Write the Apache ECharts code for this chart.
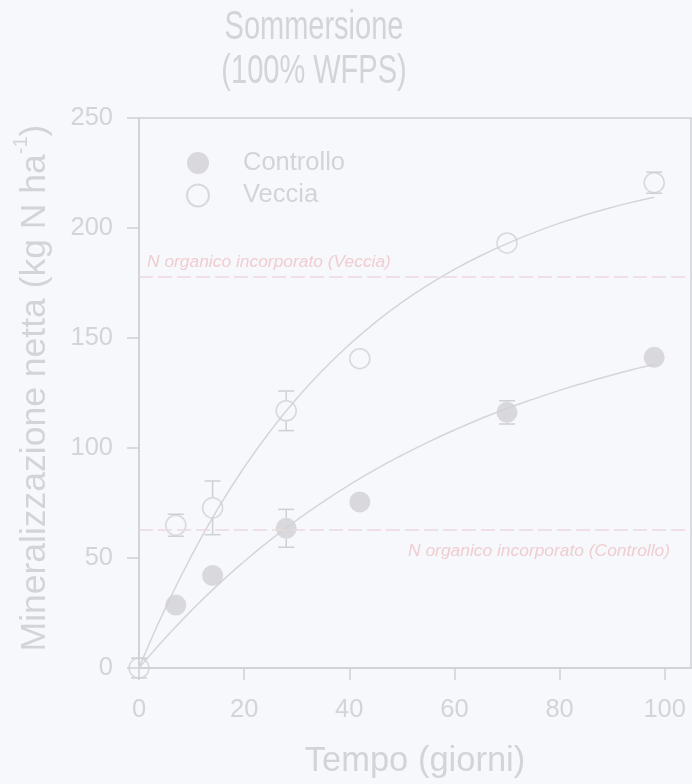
<!DOCTYPE html>
<html>
<head>
<meta charset="utf-8">
<script src="https://cdn.jsdelivr.net/npm/echarts@6/dist/echarts.min.js"></script>
<style>
  html, body { margin: 0; padding: 0; background: #f7f8fc; }
  #chart { width: 692px; height: 784px; }
</style>
</head>
<body>
<div id="chart"></div>
<script>
// Net N mineralisation under flooding (100% WFPS)
const titleLines = ['Sommersione', '(100% WFPS)'];
const xTicks = [0, 20, 40, 60, 80, 100];

// Measured points (days, kg N/ha) and standard errors
const controlloT = [7, 14, 28, 42, 70, 98];
const controlloN = [28.6, 42.0, 63.5, 75.5, 116.2, 141.2];
const controlloErr = [0, 0, 8.6, 0, 5.3, 0];

const vecciaT = [0, 7, 14, 28, 42, 70, 98];
const vecciaN = [0, 64.9, 72.8, 116.9, 140.6, 193.2, 220.6];
const vecciaErr = [4.5, 5, 12.2, 9, 0, 0, 4.8];

// First-order kinetic curves, sampled along time
const curveT = [0, 2, 5, 10, 15, 20, 25, 30, 35, 40, 45, 50, 55, 60, 65, 70, 75, 80, 85, 90, 95, 98];
const curveControllo = [0, 5.6, 13.6, 26.2, 37.8, 48.4, 58.2, 67.2, 75.5, 83.2, 90.3, 96.7, 102.7, 108.2, 113.3, 118.0, 122.2, 126.2, 129.8, 133.2, 136.3, 138.0];
const curveVeccia = [0, 11.3, 27.1, 51.1, 72.4, 91.2, 107.8, 122.5, 135.5, 147.0, 157.2, 166.2, 174.1, 181.2, 187.4, 192.9, 197.8, 202.2, 206.0, 209.4, 212.4, 214.0];

// Organic N incorporated with each treatment
const nIncVeccia = 178;
const nIncControllo = 63;

const axisColor = '#cfd0d5';
const textColor = '#d3d4d8';
const pink = '#ecd8dc';
const pinkText = '#efcdd1';
const font = 'Liberation Sans, Arial, sans-serif';

const pairs = (xs, ys) => xs.map((x, i) => [x, ys[i]]);
const errTriples = (xs, ys, es) => xs.map((x, i) => [x, ys[i], es[i]]).filter(d => d[2] > 0);

function renderErr(params, api) {
  const t = api.value(0), v = api.value(1), e = api.value(2);
  const c = api.coord([t, v]);
  const top = api.coord([t, v + e]);
  const bot = api.coord([t, v - e]);
  const r = 10.5, half = 8;
  const style = { stroke: axisColor, lineWidth: 1.5 };
  const children = [];
  if (top[1] < c[1] - r) children.push({ type: 'line', shape: { x1: c[0], y1: c[1] - r, x2: c[0], y2: top[1] }, style });
  if (bot[1] > c[1] + r) children.push({ type: 'line', shape: { x1: c[0], y1: c[1] + r, x2: c[0], y2: bot[1] }, style });
  children.push({ type: 'line', shape: { x1: c[0] - half, y1: top[1], x2: c[0] + half, y2: top[1] }, style });
  children.push({ type: 'line', shape: { x1: c[0] - half, y1: bot[1], x2: c[0] + half, y2: bot[1] }, style });
  return { type: 'group', children };
}

// Tall, narrow heading lines
const titleGraphics = titleLines.map((line, i) => ({
  type: 'text',
  x: 314,
  y: 28 + i * 44,
  scaleY: 1.42,
  silent: true,
  style: {
    text: line,
    font: '29px ' + font,
    fill: textColor,
    align: 'center',
    verticalAlign: 'middle'
  }
}));

const chart = echarts.init(document.getElementById('chart'), null, { renderer: 'canvas' });
chart.setOption({
  animation: false,
  backgroundColor: '#f7f8fc',
  graphic: titleGraphics,
  legend: {
    data: ['Controllo', 'Veccia'],
    orient: 'vertical',
    left: 186,
    top: 150,
    padding: 0,
    itemWidth: 22,
    itemHeight: 22,
    itemGap: 6.4,
    textStyle: { fontFamily: font, fontSize: 25.5, color: textColor, padding: [0, 0, 0, 29] }
  },
  grid: {
    left: 139, right: 1, top: 118, bottom: 114,
    show: true, borderColor: axisColor, borderWidth: 1.5, backgroundColor: 'transparent'
  },
  xAxis: {
    type: 'value', min: 0, max: 105,
    name: 'Tempo (giorni)', nameLocation: 'middle', nameGap: 76,
    nameTextStyle: { fontFamily: font, fontSize: 34.5, color: textColor },
    axisLine: { show: true, lineStyle: { color: axisColor, width: 1.5 } },
    axisTick: { show: true, inside: false, length: 12, customValues: xTicks, lineStyle: { color: axisColor, width: 1.5 } },
    axisLabel: { customValues: xTicks, margin: 29, fontFamily: font, fontSize: 25.5, color: textColor },
    splitLine: { show: false }
  },
  yAxis: {
    type: 'value', min: 0, max: 250, interval: 50,
    name: '{a|Mineralizzazione netta (kg N ha}{s|-1}{a|)}', nameLocation: 'middle', nameGap: 86,
    nameTextStyle: {
      fontFamily: font, fontSize: 35.5, color: textColor, padding: [0, 0, 0, 10],
      rich: {
        a: { fontFamily: font, fontSize: 35.5, color: textColor, lineHeight: 42, verticalAlign: 'bottom' },
        s: { fontFamily: font, fontSize: 20, color: textColor, lineHeight: 22, verticalAlign: 'top' }
      }
    },
    axisLine: { show: true, lineStyle: { color: axisColor, width: 1.5 } },
    axisTick: { show: true, inside: false, length: 12, lineStyle: { color: axisColor, width: 1.5 } },
    axisLabel: { margin: 26, fontFamily: font, fontSize: 25.5, color: textColor },
    splitLine: { show: false }
  },
  series: [
    {
      name: 'Controllo curva', type: 'line', data: pairs(curveT, curveControllo),
      showSymbol: false, smooth: true, silent: true, z: 2,
      lineStyle: { color: '#d4d5d9', width: 1.5 },
      markLine: {
        silent: true, symbol: 'none',
        lineStyle: { color: pink, type: [14, 5], width: 1.5 },
        label: {
          position: 'insideEndBottom', distance: [21, 13],
          fontFamily: font, fontSize: 17.4, fontStyle: 'italic', color: pinkText,
          formatter: 'N organico incorporato (Controllo)'
        },
        data: [{ yAxis: nIncControllo }]
      }
    },
    {
      name: 'Veccia curva', type: 'line', data: pairs(curveT, curveVeccia),
      showSymbol: false, smooth: true, silent: true, z: 2,
      lineStyle: { color: '#d4d5d9', width: 1.5 },
      markLine: {
        silent: true, symbol: 'none',
        lineStyle: { color: pink, type: [14, 5], width: 1.5 },
        label: {
          position: 'insideStartTop', distance: [8, 6],
          fontFamily: font, fontSize: 17.4, fontStyle: 'italic', color: pinkText,
          formatter: 'N organico incorporato (Veccia)'
        },
        data: [{ yAxis: nIncVeccia }]
      }
    },
    {
      name: 'Controllo errori', type: 'custom', renderItem: renderErr, silent: true, z: 3,
      data: errTriples(controlloT, controlloN, controlloErr), clip: false
    },
    {
      name: 'Veccia errori', type: 'custom', renderItem: renderErr, silent: true, z: 3,
      data: errTriples(vecciaT, vecciaN, vecciaErr), clip: false
    },
    {
      name: 'Controllo', type: 'scatter', data: pairs(controlloT, controlloN),
      symbol: 'circle', symbolSize: 21, z: 4, clip: false,
      itemStyle: { color: '#cfd0d4' }
    },
    {
      name: 'Veccia', type: 'scatter', data: pairs(vecciaT, vecciaN),
      symbol: 'circle', symbolSize: 20, z: 4, clip: false,
      itemStyle: { color: 'rgba(0,0,0,0)', borderColor: '#cfd0d4', borderWidth: 1.5 }
    }
  ]
});
</script>
</body>
</html>
